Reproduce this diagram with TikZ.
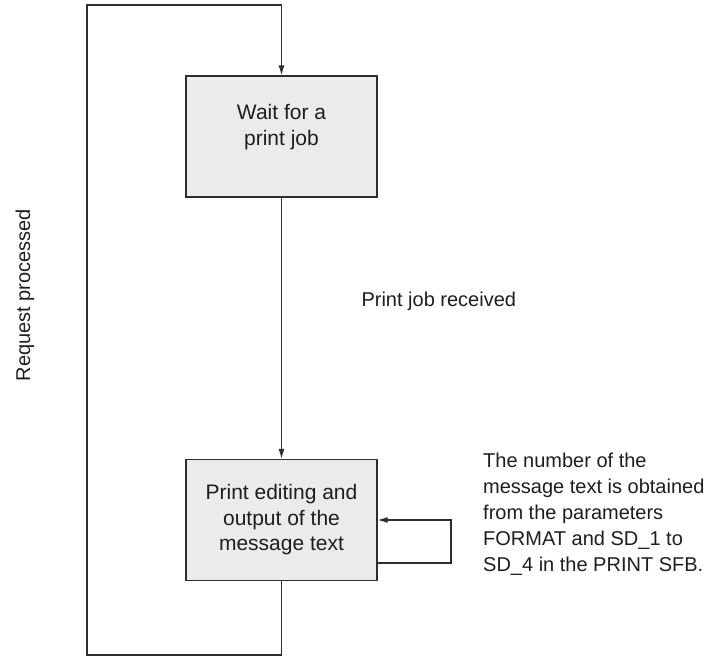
\documentclass[tikz,border=0pt]{standalone}
\usepackage{fontspec}
\setsansfont{Liberation Sans}
\usetikzlibrary{arrows.meta}
\definecolor{flowLine}{HTML}{2E2E2E}
\definecolor{flowFill}{HTML}{EBEBEC}
\definecolor{flowText}{HTML}{1E1E1E}

\begin{document}
\begin{tikzpicture}[
  x=1pt, y=-1pt,
  every node/.style={font=\sffamily\fontsize{20}{26}\selectfont, text=flowText},
  statebox/.style={
    rectangle, draw=flowLine, line width=1.2pt, fill=flowFill,
    minimum width=191pt, minimum height=121pt, inner sep=0pt, align=center,
    font=\sffamily\fontsize{21}{25.5}\selectfont
  },
  flowline/.style={flowLine, line width=1.2pt},
  flowarrow/.style={flowline, -{Latex[length=10pt,width=6pt]}},
]
\useasboundingbox (0,0) rectangle (704,656);

% States
\node[statebox, text depth=23pt] (wait) at (281.5,136.5) {Wait for a\\print job};
\node[statebox] (print) at (281.5,520) {Print editing and\\output of the\\message text};

% Print job received
\draw[flowarrow] (wait.south) -- (print.north);
\node[anchor=base west] (received) at (358,306) {Print job received};

% Request processed, back to the top
\coordinate (loopBL) at (87,655);
\coordinate (loopTL) at (87,5);
\draw[flowarrow] (print.south) |- (loopBL) -- (loopTL) -| (wait.north);
\node[rotate=90, anchor=base] (processed) at (30,295) {Request processed};

% Message text number
\coordinate (selfR) at (451,540);
\draw[flowarrow] ([yshift=-43pt]print.east) -| (selfR) |- (print.east);
\node[anchor=north west, align=left, inner sep=0pt] (note) at (483,453)
  {The number of the\\message text is obtained\\from the parameters\\FORMAT and SD\_1 to\\SD\_4 in the PRINT SFB.};

\end{tikzpicture}
\end{document}
